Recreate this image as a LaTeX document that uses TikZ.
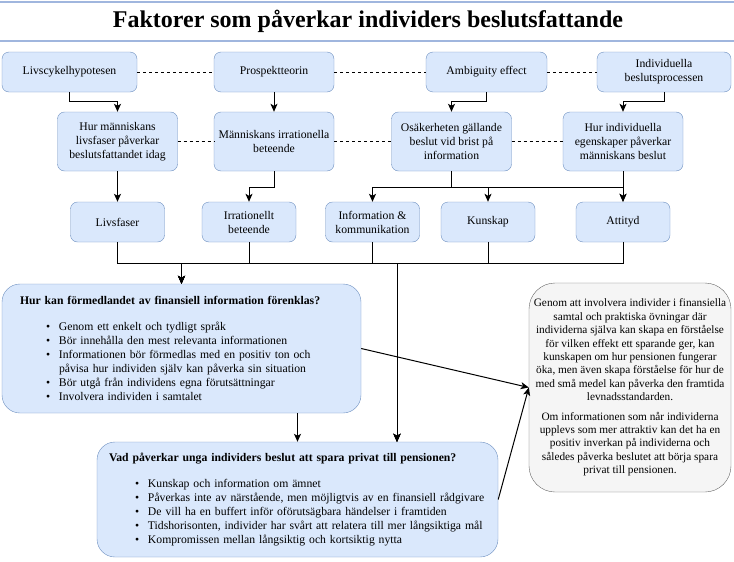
\documentclass[tikz,border=0pt]{standalone}
\usepackage{fontspec}
\setmainfont{Liberation Serif}
\usetikzlibrary{arrows.meta,positioning,calc}

\definecolor{boxfill}{HTML}{DAE8FC}
\definecolor{boxline}{HTML}{6C8EBF}
\definecolor{notefill}{HTML}{F5F5F5}
\definecolor{noteline}{HTML}{666666}
\definecolor{titelblå}{RGB}{160,182,222}

\newcommand{\punkt}[1]{\mbox{\hspace*{26pt}\makebox[13pt][l]{\textbullet}#1}}
\newcommand{\fortsatt}[1]{\mbox{\hspace*{39pt}#1}}

\tikzset{
	faktor/.style={rectangle,rounded corners=7pt,draw=boxline,fill=boxfill,align=center,
		inner sep=2pt,font=\fontsize{11.7}{14}\selectfont},
	fraga/.style={rectangle,rounded corners=18pt,draw=boxline,fill=boxfill,align=left,
		inner ysep=0pt,font=\fontsize{11.7}{14}\selectfont},
	slutsats/.style={rectangle,rounded corners=26pt,draw=noteline,fill=notefill,align=center,
		inner ysep=0pt,inner xsep=4pt,font=\fontsize{11.3}{13.4}\selectfont},
	pil/.style={line width=1pt,-{Stealth[length=8pt,width=7pt,inset=2pt]}},
	streck/.style={dash pattern=on 3pt off 3pt},
	titellinje/.style={draw=titelblå,line width=2pt}
}

\begin{document}
\begin{tikzpicture}[x=1pt,y=-1pt]
	\useasboundingbox (0,0) rectangle (734,562);

	% rubrik
	\node (titel) at (368,21) {\fontsize{24}{28}\selectfont\bfseries Faktorer som påverkar individers beslutsfattande};
	\draw[titellinje] (0,1.5) -- (734,1.5);
	\draw[titellinje] (0,41) -- (734,41);

	% teorier
	\begin{scope}[every node/.style={faktor,minimum height=40pt}]
		\node[minimum width=135pt] (livscykel) at (69.5,72) {Livscykelhypotesen};
		\node[minimum width=120pt] (prospekt) at (274,72) {Prospektteorin};
		\node[minimum width=121pt] (ambiguity) at (486.5,72) {Ambiguity effect};
		\node[minimum width=134pt] (indbeslut) at (664,72) {Individuella\\beslutsprocessen};
	\end{scope}

	% fragor
	\begin{scope}[every node/.style={faktor,minimum height=59pt,minimum width=120pt}]
		\node (livfas) at (117.5,141.5) {Hur människans\\livsfaser påverkar\\beslutsfattandet idag};
		\node (irrat) at (274,141.5) {Människans irrationella\\beteende};
		\node (osak) at (451.5,141.5) {Osäkerheten gällande\\beslut vid brist på\\information};
		\node (egensk) at (623,141.5) {Hur individuella\\egenskaper påverkar\\människans beslut};
	\end{scope}

	% faktorer
	\begin{scope}[every node/.style={faktor,minimum height=40pt,minimum width=94pt}]
		\node (livsfaser) at (117.5,222) {Livsfaser};
		\node (irrbet) at (249,222) {Irrationellt\\beteende};
		\node (info) at (372.5,222) {Information \&\\kommunikation};
		\node (kunskap) at (488,222) {Kunskap};
		\node (attityd) at (623,222) {Attityd};
	\end{scope}

	\node[fraga,text width=323pt,inner xsep=18pt,minimum height=129pt] (fraga1) at (181.5,348.5) {%
		\mbox{\textbf{Hur kan förmedlandet av finansiell information förenklas?}}\\[12pt]
		\punkt{Genom ett enkelt och tydligt språk}\\
		\punkt{Bör innehålla den mest relevanta informationen}\\
		\punkt{Informationen bör förmedlas med en positiv ton och}\\
		\fortsatt{påvisa hur individen själv kan påverka sin situation}\\
		\punkt{Bör utgå från individens egna förutsättningar}\\
		\punkt{Involvera individen i samtalet}};

	\node[fraga,text width=377pt,inner xsep=12pt,minimum height=115pt] (fraga2) at (297.5,499.5) {%
		\mbox{\textbf{Vad påverkar unga individers beslut att spara privat till pensionen?}}\\[12pt]
		\punkt{Kunskap och information om ämnet}\\
		\punkt{Påverkas inte av närstående, men möjligtvis av en finansiell rådgivare}\\
		\punkt{De vill ha en buffert inför oförutsägbara händelser i framtiden}\\
		\punkt{Tidshorisonten, individer har svårt att relatera till mer långsiktiga mål}\\
		\punkt{Kompromissen mellan långsiktig och kortsiktig nytta}};

	\node[slutsats,minimum width=202pt,minimum height=209pt] (slutsats) at (630,387.5) {%
		Genom att involvera individer i finansiella\\
		samtal och praktiska övningar där\\
		individerna själva kan skapa en förståelse\\
		för vilken effekt ett sparande ger, kan\\
		kunskapen om hur pensionen fungerar\\
		öka, men även skapa förståelse för hur de\\
		med små medel kan påverka den framtida\\
		levnadsstandarden.\\[6pt]
		Om informationen som når individerna\\
		upplevs som mer attraktiv kan det ha en\\
		positiv inverkan på individerna och\\
		således påverka beslutet att börja spara\\
		privat till pensionen.};

	\coordinate (inpil) at (397,263);

	% streckade kopplingar
	\draw[streck] (livscykel) -- (prospekt) -- (ambiguity) -- (indbeslut);
	\draw[streck] (livfas) -- (irrat) -- (osak) -- (egensk);

	% pilar
	\begin{scope}[pil]
		\draw (livscykel.south) -- (livscykel.south |- 0,101) -| (livfas.north);
		\draw (prospekt) -- (irrat);
		\draw (ambiguity.south) -- (ambiguity.south |- 0,101) -| (osak.north);
		\draw (indbeslut.south) -- (indbeslut.south |- 0,101) -| (egensk.north);
		\draw (livfas) -- (livsfaser);
		\draw (irrat.south) -- (irrat.south |- 0,187) -| (irrbet.north);
		\foreach \m in {info,kunskap,attityd}
			\draw (osak.south) -- (osak.south |- 0,187) -| (\m.north);
		\draw (egensk) -- (attityd);
		\foreach \m in {livsfaser,irrbet,info,kunskap,attityd} {
			\draw (\m.south) -- (\m.south |- inpil) -| (fraga1.north);
			\draw (\m.south) -- (\m.south |- inpil) -- (inpil) -- (inpil |- fraga2.north);
		}
		\draw (fraga1.south -| fraga2.north) -- (fraga2.north);
		\draw (fraga1.east) -- (slutsats.west);
		\draw (fraga2.east) -- (slutsats.west);
	\end{scope}
\end{tikzpicture}
\end{document}
